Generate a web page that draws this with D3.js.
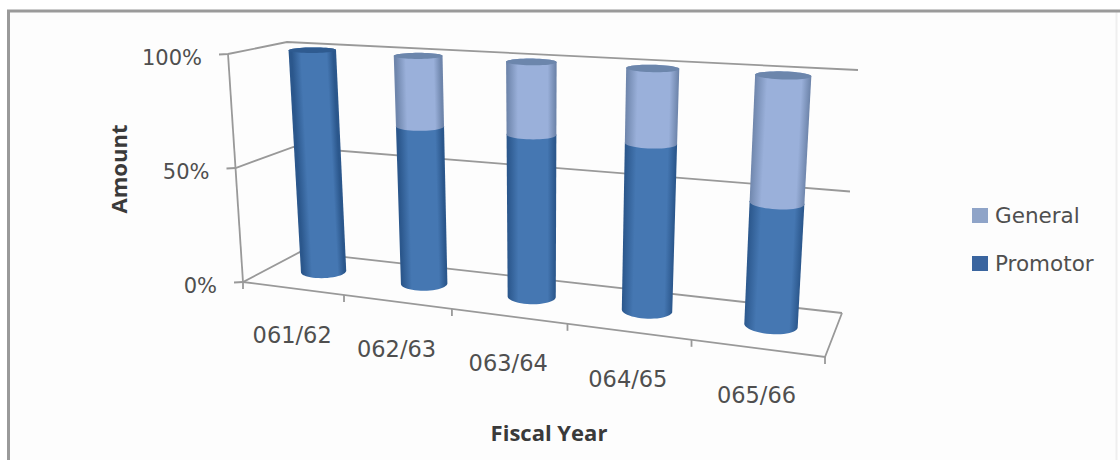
<!DOCTYPE html>
<html>
<head>
<meta charset="utf-8">
<script src="https://cdn.jsdelivr.net/npm/d3@7"></script>
<style>
  html, body { margin: 0; padding: 0; background: #fff; overflow: hidden; }
  svg { display: block; }
  text { font-family: "DejaVu Sans", sans-serif; }
  text.axis-title { font-family: "Open Sans", sans-serif; font-weight: 700; font-size: 22px; fill: #3a3a3a; }
</style>
</head>
<body>
<svg id="chart" width="1120" height="460"></svg>
<script>
// Fiscal-year ownership shares, stacked to 100%.
const categories = ["061/62", "062/63", "063/64", "064/65", "065/66"];
const promotor = [100, 69, 69, 69, 49];
const general = [0, 31, 31, 31, 51];
const valueTicks = [0, 50, 100];

const seriesNames = ["Promotor", "General"];
const seriesFill = {
  Promotor: { mid: "#4577b2", edge: "#2b578c", cap: "#2f5b90", key: "#3a659f" },
  General: { mid: "#9ab0da", edge: "#6f86ac", cap: "#6c86ac", key: "#8fa4c8" }
};

const svg = d3.select("#chart");

// Chart box corners on screen: floor (f) and roof (r), front (0) and back (1).
const box = {
  f0L: [243, 282], f0R: [825, 357], f1L: [300, 252], f1R: [842, 313],
  r0L: [228, 54], r0R: [840, 90], r1L: [287, 42], r1R: [858, 70]
};

const lerp = (a, b, t) => [a[0] + (b[0] - a[0]) * t, a[1] + (b[1] - a[1]) * t];
// Foreshortening along the category axis: bands widen towards the right.
const warp = u => (0.84 * u) / (1 - 0.16 * u);

// u: across categories, d: depth front to back, h: height; all in 0..1.
function project(u, d, h) {
  const x = warp(u);
  const floor = lerp(lerp(box.f0L, box.f0R, x), lerp(box.f1L, box.f1R, x), d);
  const roof = lerp(lerp(box.r0L, box.r0R, x), lerp(box.r1L, box.r1R, x), d);
  return lerp(floor, roof, h);
}

const xScale = d3.scaleBand().domain(categories).range([0, 1]);
const yScale = d3.scaleLinear().domain([0, 100]).range([0, 1]);

const line = d3.line();
const axisColor = "#999999";

// Frame of the picture: left and top rules, with a faint rule on the right.
svg.append("rect").attr("x", 10).attr("y", 12).attr("width", 1106).attr("height", 448).attr("fill", "#fdfdfd");
svg.append("path")
  .attr("d", "M1116.5,12V460")
  .attr("fill", "none").attr("stroke", "#efefef").attr("stroke-width", 2);
svg.append("path")
  .attr("d", "M8.5,460V11H1120")
  .attr("fill", "none").attr("stroke", "#9a9a9a").attr("stroke-width", 3);

// Walls and floor grid.
const grid = svg.append("g").attr("fill", "none").attr("stroke", axisColor).attr("stroke-width", 1.8);
valueTicks.forEach(v => {
  const h = yScale(v);
  const a = project(0, 0, h), b = project(0, 1, h), c = project(1, 1, h);
  const t = [a[0] - 9, a[1] + 0.5];
  grid.append("path").attr("d", line([t, a, b, c]));
});
grid.append("path").attr("d", line([project(0, 0, 0), project(0, 0, 1)]));
grid.append("path").attr("d", line([project(0, 0, 0), project(1, 0, 0), project(1, 1, 0)]));

// Category ticks along the front floor edge.
const tickPositions = categories.map(c => xScale(c)).concat([1]);
tickPositions.forEach(u => {
  const p = project(u, 0, 0);
  grid.append("path").attr("d", line([p, [p[0], p[1] + 7]]));
});

// Value labels.
valueTicks.forEach(v => {
  const p = project(0, 0, yScale(v));
  svg.append("text")
    .attr("x", p[0] - 26).attr("y", p[1] + 11)
    .attr("text-anchor", "end")
    .attr("font-size", 21).attr("fill", "#4f4f4f")
    .text(v + "%");
});

// Category labels.
categories.forEach(c => {
  const u = xScale(c) + xScale.bandwidth() / 2;
  const p = project(u, 0, 0);
  svg.append("text")
    .attr("x", p[0] - 0.5)
    .attr("y", p[1] + 55)
    .attr("text-anchor", "middle")
    .attr("font-size", 22.5).attr("fill", "#4f4f4f")
    .text(c);
});

// Stacked cylinders, drawn bottom segment first so each upper segment overlaps the seam.
const rows = categories.map((c, i) => ({ category: c, Promotor: promotor[i], General: general[i] }));
const stacked = d3.stack().keys(seriesNames)(rows);
const defs = svg.append("defs");
const radiusU = 0.041, radiusD = 0.2, centerD = 0.55, centerShift = 0.003;
const circle = d3.range(0, 48).map(i => (i / 48) * 2 * Math.PI);

function ring(u, h) {
  return circle.map(t => project(u + radiusU * Math.cos(t), centerD + radiusD * Math.sin(t), h));
}

categories.forEach((c, i) => {
  const u = xScale(c) + xScale.bandwidth() / 2 + centerShift;
  const g = svg.append("g");
  let topKey = null, topValue = 0;
  stacked.forEach(layer => {
    const [v0, v1] = layer[i];
    if (v1 <= v0) return;
    const key = layer.key;
    topKey = key; topValue = v1;
    // Shade across the cylinder, at right angles to its leaning axis.
    const low = project(u, centerD, yScale(v0));
    const high = project(u, centerD, yScale(v1));
    const len = Math.hypot(high[0] - low[0], high[1] - low[1]);
    const normal = [-(high[1] - low[1]) / len, (high[0] - low[0]) / len];
    const centre = lerp(low, high, 0.5);
    const rightEnd = project(u + radiusU, centerD, yScale((v0 + v1) / 2));
    const half = Math.hypot(rightEnd[0] - centre[0], rightEnd[1] - centre[1]);
    const id = "shade-" + i + "-" + key;
    const grad = defs.append("linearGradient").attr("id", id)
      .attr("gradientUnits", "userSpaceOnUse")
      .attr("x1", centre[0] + normal[0] * half).attr("y1", centre[1] + normal[1] * half)
      .attr("x2", centre[0] - normal[0] * half).attr("y2", centre[1] - normal[1] * half);
    const col = seriesFill[key];
    [[0, col.edge], [0.16, col.mid], [0.5, col.mid], [0.78, col.mid], [1, col.edge]].forEach(s =>
      grad.append("stop").attr("offset", s[0]).attr("stop-color", s[1]));
    const hull = d3.polygonHull(ring(u, yScale(v0)).concat(ring(u, yScale(v1))));
    g.append("path").attr("d", line(hull) + "Z").attr("fill", "url(#" + id + ")");
  });
  g.append("path")
    .attr("d", line(ring(u, yScale(topValue))) + "Z")
    .attr("fill", seriesFill[topKey].cap);
});

// Axis titles.
svg.append("text")
  .attr("class", "axis-title")
  .attr("transform", "translate(127,169) rotate(-90)")
  .attr("text-anchor", "middle")
  .text("Amount");
svg.append("text")
  .attr("class", "axis-title")
  .attr("x", 549).attr("y", 441)
  .attr("text-anchor", "middle")
  .text("Fiscal Year");

// Legend, top entry is the upper stack segment.
const legendRows = ["General", "Promotor"];
legendRows.forEach((name, i) => {
  const y = 208 + i * 48;
  svg.append("rect")
    .attr("x", 972).attr("y", y).attr("width", 16).attr("height", 15)
    .attr("fill", seriesFill[name].key);
  svg.append("text")
    .attr("x", 995).attr("y", y + 14.5)
    .attr("font-size", 21.5).attr("fill", "#4f4f4f")
    .text(name);
});
</script>
</body>
</html>
